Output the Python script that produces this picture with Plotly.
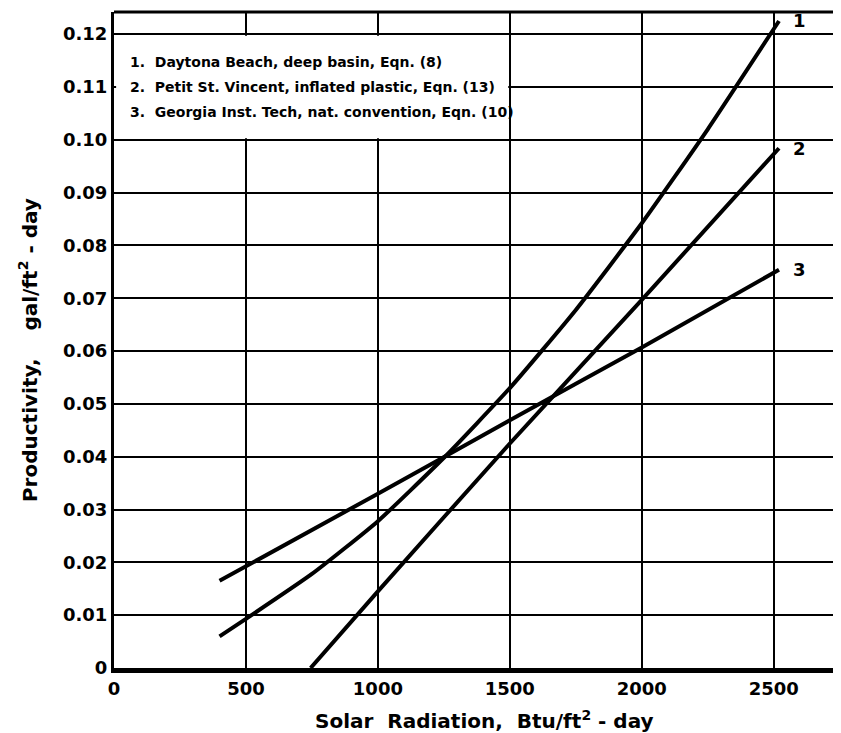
import plotly.graph_objects as go

# Solar radiation (Btu/ft^2-day) vs productivity (gal/ft^2-day)
x1 = [400, 500, 750, 1000, 1250, 1500, 1750, 2000, 2250, 2520]
y1 = [0.006, 0.0093, 0.0178, 0.0278, 0.0398, 0.053, 0.0678, 0.0842, 0.102, 0.1225]

x2 = [745, 1000, 1500, 2000, 2520]
y2 = [0.0, 0.0145, 0.0425, 0.0697, 0.0984]

x3 = [400, 1000, 1500, 2000, 2520]
y3 = [0.0165, 0.0330, 0.0469, 0.0607, 0.0754]

curve_labels = ["1", "2", "3"]
legend_lines = [
    "1.  Daytona Beach, deep basin, Eqn. (8)",
    "2.  Petit St. Vincent, inflated plastic, Eqn. (13)",
    "3.  Georgia Inst. Tech, nat. convention, Eqn. (10)",
]
legend_y = [0.1148, 0.1100, 0.1052]

x_ticks = [0, 500, 1000, 1500, 2000, 2500]
y_ticks = [0, 0.01, 0.02, 0.03, 0.04, 0.05, 0.06, 0.07, 0.08, 0.09, 0.10, 0.11, 0.12]
y_ticktext = ["0", "0.01", "0.02", "0.03", "0.04", "0.05", "0.06", "0.07", "0.08",
              "0.09", "0.10", "0.11", "0.12"]

FONT = "DejaVu Sans"

fig = go.Figure()
for xs, ys in [(x1, y1), (x2, y2), (x3, y3)]:
    fig.add_trace(go.Scatter(x=xs, y=ys, mode="lines",
                             line=dict(color="black", width=4, shape="spline", smoothing=0.5),
                             showlegend=False, hoverinfo="skip"))

# numbers at the end of each curve
for lab, xs, ys in zip(curve_labels, [x1, x2, x3], [y1, y2, y3]):
    fig.add_annotation(x=xs[-1], y=ys[-1], text=lab, showarrow=False,
                       xanchor="left", yanchor="middle", xshift=12,
                       font=dict(family=FONT, size=18, color="black", weight="bold"))

# white box for the key (covers the grid between 0.10 and 0.12, left of 1500)
fig.add_shape(type="rect", xref="x", yref="y", x0=8, x1=1494, y0=0.1003, y1=0.1197,
              fillcolor="white", line=dict(width=0), layer="between")
for txt, yy in zip(legend_lines, legend_y):
    fig.add_annotation(xref="paper", yref="y", x=0.019, y=yy,
                       text=txt, showarrow=False, xanchor="left", yanchor="middle",
                       font=dict(family=FONT, size=14, color="black", weight="bold"))

# axis titles
fig.add_annotation(xref="paper", yref="paper", x=0.509, y=-0.079,
                   text="Solar  Radiation,  Btu/ft<sup>2</sup> - day", showarrow=False,
                   xanchor="center", yanchor="middle",
                   font=dict(family=FONT, size=20, color="black", weight="bold"))
fig.add_annotation(xref="paper", yref="paper", x=-0.118, y=0.485,
                   text="Productivity,    gal/ft<sup>2</sup> - day", showarrow=False,
                   textangle=-90, xanchor="center", yanchor="middle",
                   font=dict(family=FONT, size=20, color="black", weight="bold"))

fig.update_xaxes(range=[0, 2755], tickvals=x_ticks, showgrid=True,
                 gridcolor="black", gridwidth=2, zeroline=False,
                 showline=True, linecolor="black", linewidth=5,
                 ticks="", tickfont=dict(family=FONT, size=18, color="black", weight="bold"))
fig.update_yaxes(range=[0, 0.1242], tickvals=y_ticks, ticktext=y_ticktext,
                 showgrid=True, gridcolor="black", gridwidth=2, zeroline=False,
                 showline=True, linecolor="black", linewidth=3,
                 ticks="", tickfont=dict(family=FONT, size=18, color="black", weight="bold"))

# top border
fig.add_shape(type="line", xref="paper", yref="paper", x0=0, x1=1, y0=1, y1=1,
              line=dict(color="black", width=3))

# page body has an 8px margin, so size the figure to land on the same pixels
fig.update_layout(
    width=833, height=725,
    margin=dict(l=106, r=0, t=4, b=65),
    plot_bgcolor="white", paper_bgcolor="white",
    font=dict(family=FONT, color="black"),
)

fig.write_html("out.html")
